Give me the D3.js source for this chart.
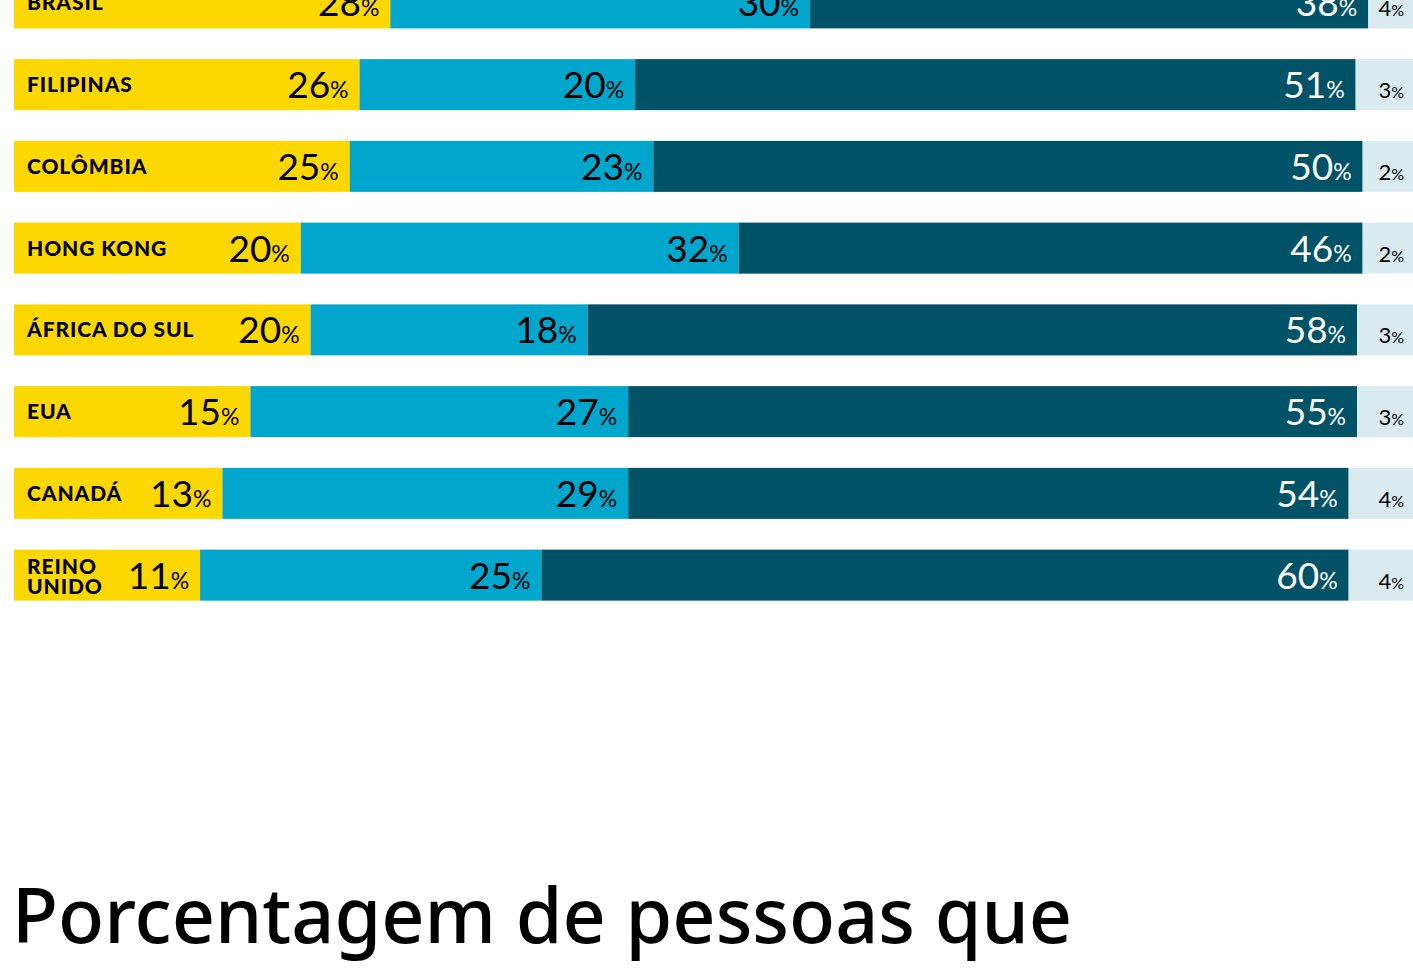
<!DOCTYPE html>
<html>
<head>
<meta charset="utf-8">
<script src="https://d3js.org/d3.v7.min.js"></script>
<style>
  html, body { margin: 0; padding: 0; background: #ffffff; overflow: hidden; }
  svg { display: block; }
</style>
</head>
<body>
<svg id="chart"></svg>
<script>
const countries = ["BRASIL", "FILIPINAS", "COLÔMBIA", "HONG KONG", "ÁFRICA DO SUL", "EUA", "CANADÁ", "REINO UNIDO"];

// printed percentages
const amarelo = [28, 26, 25, 20, 20, 15, 13, 11];
const azul = [30, 20, 23, 32, 18, 27, 29, 25];
const escuro = [38, 51, 50, 46, 58, 55, 54, 60];
const claro = [4, 3, 2, 2, 3, 3, 4, 4];

// segment lengths as drawn, in % of the full bar
const amareloBar = [26.9, 24.7, 24.0, 20.5, 21.2, 16.9, 14.9, 13.3];
const azulBar = [30.0, 19.7, 21.7, 31.3, 19.8, 27.0, 29.0, 24.4];
const escuroBar = [39.9, 51.5, 50.7, 44.6, 55.0, 52.1, 51.5, 57.7];

const titleLines = ["Porcentagem de pessoas que"];

class StackedBars {

    constructor( config ) {
        this.config = {
            parent: config.parent,
            width: config.width || 1413,
            height: config.height || 980,
            margin: config.margin || {top: -38, right: 0, bottom: 364, left: 14}
        }
        this.init();
    }

    init() {
        let self = this;

        self.svg = d3.select( self.config.parent )
            .attr('width', self.config.width)
            .attr('height', self.config.height);

        self.inner_width = self.config.width - self.config.margin.left - self.config.margin.right;
        self.inner_height = self.config.height - self.config.margin.top - self.config.margin.bottom;

        self.chart = self.svg.append('g')
            .attr('transform', `translate(${self.config.margin.left}, ${self.config.margin.top})`);

        self.xscale = d3.scaleLinear()
            .domain( [0, 100] )
            .range( [0, self.inner_width] );

        self.yscale = d3.scaleBand()
            .domain( countries )
            .range( [0, self.inner_height] )
            .paddingInner(0.376)
            .paddingOuter(0.188);

        self.colors = ["#fdd800", "#00a6cb", "#005266", "#daebf0"];
        self.textColors = ["#000000", "#000000", "#ffffff", "#000000"];
    }

    update() {
        let self = this;

        self.rows = countries.map( (c, i) => {
            const lens = [amareloBar[i], azulBar[i], escuroBar[i]];
            lens.push( 100 - d3.sum(lens) );
            const labels = [amarelo[i], azul[i], escuro[i], claro[i]];
            let x0 = 0;
            const segs = lens.map( (len, k) => {
                const s = {country: c, k: k, x0: x0, x1: x0 + len, label: labels[k]};
                x0 += len;
                return s;
            });
            return {country: c, segs: segs};
        });

        self.render();
    }

    render() {
        let self = this;
        const bw = self.yscale.bandwidth();

        const row = self.chart.selectAll('.row')
            .data(self.rows)
            .join('g')
            .attr('class', 'row')
            .attr('transform', d => `translate(0, ${self.yscale(d.country)})`);

        row.selectAll('rect')
            .data(d => d.segs)
            .join('rect')
            .attr('x', d => self.xscale(d.x0))
            .attr('y', 0)
            .attr('width', d => self.xscale(d.x1) - self.xscale(d.x0))
            .attr('height', bw)
            .attr('fill', d => self.colors[d.k]);

        // percentage labels, right-aligned inside each segment
        const lab = row.selectAll('text.pct')
            .data(d => d.segs)
            .join('text')
            .attr('class', 'pct')
            .attr('x', d => self.xscale(d.x1) - (d.k == 3 ? 9 : 11))
            .attr('y', bw / 2 + 13.5)
            .attr('text-anchor', 'end')
            .attr('fill', d => self.textColors[d.k])
            .style('font-family', 'Lato, sans-serif')
            .style('font-weight', 400);

        lab.append('tspan')
            .attr('font-size', d => d.k == 3 ? 22 : 37)
            .text(d => d.label);

        lab.append('tspan')
            .attr('font-size', d => d.k == 3 ? 16 : 23)
            .text('%');

        // country names
        row.append('text')
            .attr('class', 'country')
            .attr('x', 13)
            .attr('y', d => bw / 2 + (d.country == "REINO UNIDO" ? -1 : 7.5))
            .attr('fill', '#000000')
            .style('font-family', 'Lato, sans-serif')
            .style('font-weight', 900)
            .style('font-size', '21px')
            .style('letter-spacing', '0.9px')
            .selectAll('tspan')
            .data(d => d.country == "REINO UNIDO" ? d.country.split(' ') : [d.country])
            .join('tspan')
            .attr('x', 13)
            .attr('dy', (d, i) => i == 0 ? 0 : 20)
            .text(d => d);

        self.svg.selectAll('text.title')
            .data(titleLines)
            .join('text')
            .attr('class', 'title')
            .attr('x', 12)
            .attr('y', (d, i) => 943 + i * 90)
            .attr('fill', '#000000')
            .style('font-family', '"Noto Sans", sans-serif')
            .style('font-weight', 500)
            .style('font-size', '75.5px')
            .text(d => d);
    }
}

let chart = new StackedBars({ parent: '#chart' });
chart.update();
</script>
</body>
</html>
